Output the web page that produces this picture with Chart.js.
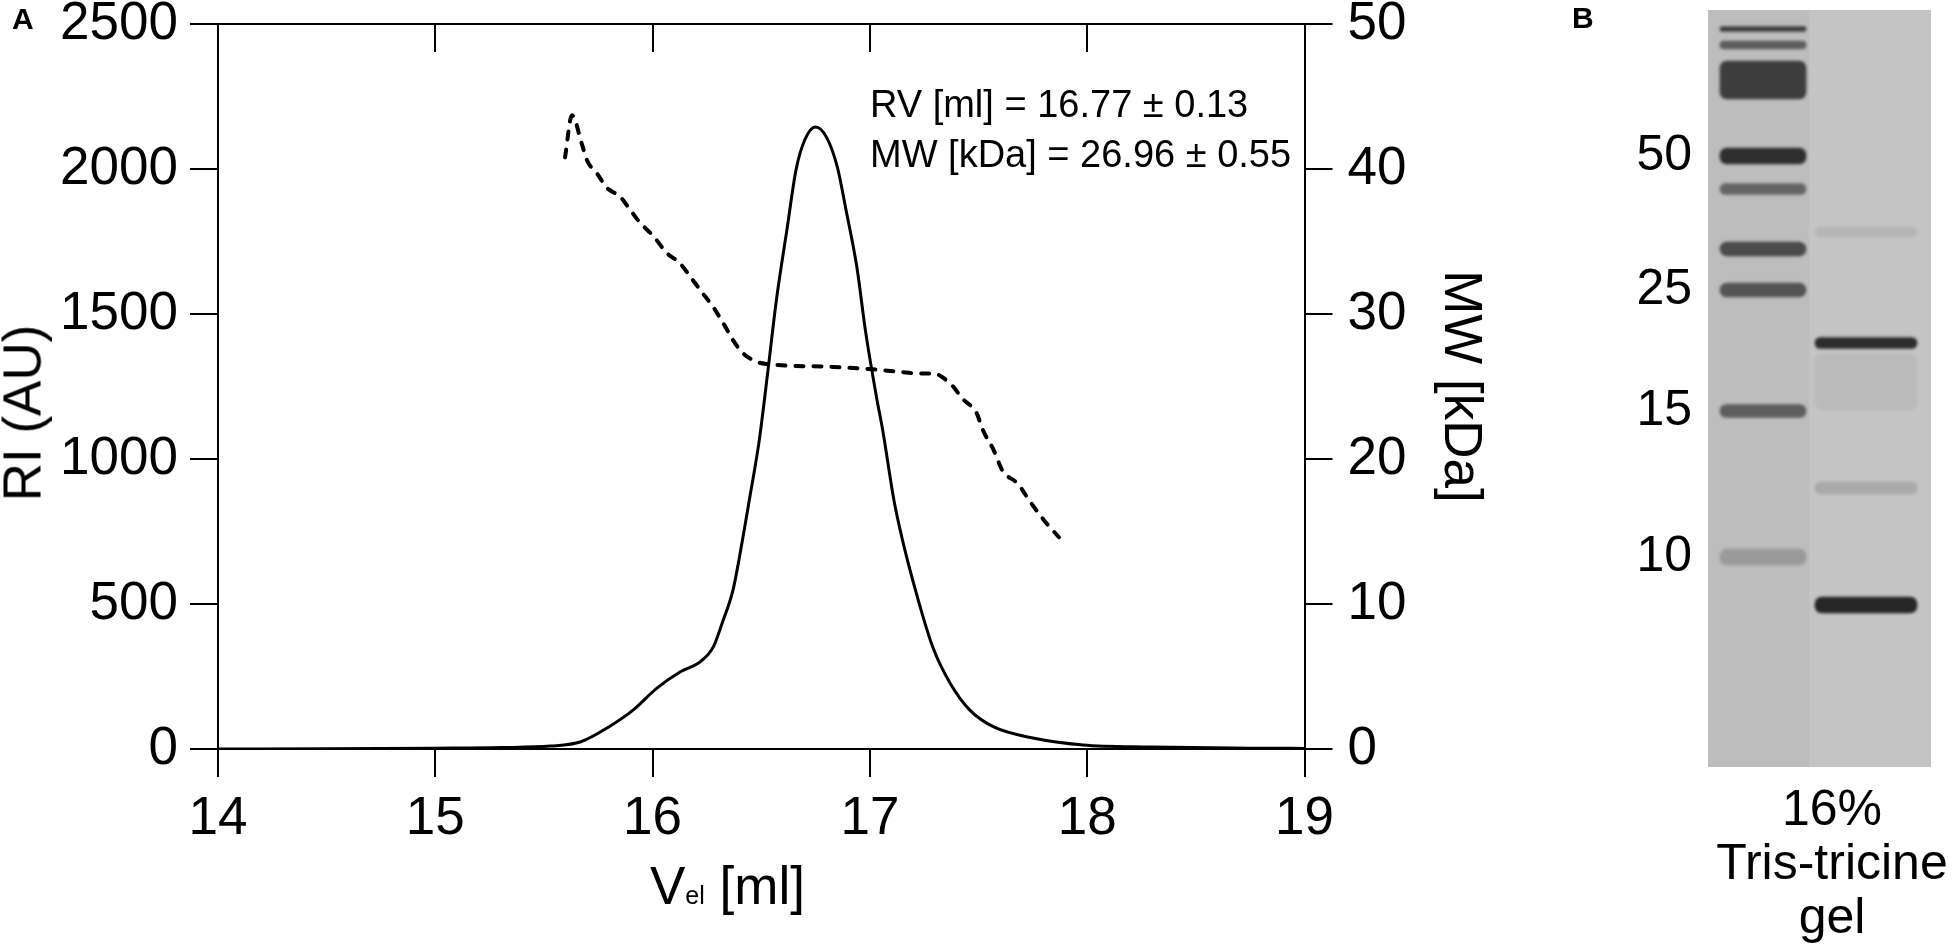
<!DOCTYPE html>
<html>
<head>
<meta charset="utf-8">
<script src="https://cdn.jsdelivr.net/npm/chart.js@4.4.1/dist/chart.umd.min.js"></script>
<style>
  html, body { margin: 0; padding: 0; background: #fff; }
  body { width: 1955px; height: 948px; position: relative; overflow: hidden;
         font-family: "Liberation Sans", Arial, sans-serif; color: #000; }
  canvas { position: absolute; top: 0; }
  #sec { left: -7px; }
  #gel { left: 1560px; }
  .txt { position: absolute; white-space: nowrap; }
  .panel { font-weight: bold; font-size: 30px; line-height: 30px; }
  #panelA { left: 12px; top: 4px; }
  #panelB { left: 1572px; top: 3px; }
  #note { left: 870px; top: 79px; font-size: 38px; line-height: 50px; }
  #xTitle { left: 650px; top: 859px; font-size: 53px; line-height: 53px; }
  #xTitle span { font-size: 25px; }
  #yTitle { left: 22px; top: 413px; font-size: 53px; line-height: 53px;
            transform: translate(-50%, -50%) rotate(-90deg); }
  #gelCap { left: 1832px; top: 781px; font-size: 50px; line-height: 54px;
            text-align: center; transform: translateX(-50%); }
</style>
</head>
<body>
<canvas id="sec" width="1498" height="948"></canvas>
<canvas id="gel" width="395" height="948"></canvas>

<div class="txt panel" id="panelA">A</div>
<div class="txt panel" id="panelB">B</div>
<div class="txt" id="note">RV [ml] = 16.77 ± 0.13<br>MW [kDa] = 26.96 ± 0.55</div>
<div class="txt" id="xTitle">V<span>el</span> [ml]</div>
<div class="txt" id="yTitle">RI (AU)</div>
<div class="txt" id="gelCap">16%<br>Tris-tricine<br>gel</div>

<script>
// elution volume (ml) and refractive index signal (AU)
const riVolume = [14.0, 14.5, 15.0, 15.3, 15.53, 15.67, 15.80, 15.91, 16.02, 16.13, 16.22, 16.28,
                  16.32, 16.37, 16.40, 16.45, 16.49, 16.53, 16.57, 16.62, 16.66, 16.70, 16.75, 16.80,
                  16.85, 16.89, 16.94, 16.98, 17.03, 17.06, 17.11, 17.15, 17.22, 17.29, 17.37, 17.46,
                  17.57, 17.75, 17.98, 18.29, 18.75, 19.0];
const riSignal = [0, 1, 3, 5, 10, 25, 77, 134, 210, 267, 301, 353,
                  434, 548, 663, 880, 1060, 1300, 1550, 1800, 1997, 2100, 2145, 2110,
                  2007, 1859, 1662, 1440, 1215, 1095, 860, 720, 520, 350, 226, 134,
                  76, 38, 14, 7, 3, 2];

// molar mass across the peak (kDa)
const mwVolume = [15.597, 15.629, 15.675, 15.698, 15.744, 15.790, 15.850, 15.896, 15.942, 16.002,
                  16.066, 16.126, 16.172, 16.232, 16.278, 16.324, 16.370, 16.416, 16.480, 16.526,
                  16.83, 17.0, 17.14, 17.22, 17.29, 17.37, 17.43, 17.49, 17.52, 17.57,
                  17.61, 17.68, 17.74, 17.80, 17.87];
const mwValue = [40.8, 43.7, 41.7, 40.6, 39.7, 38.7, 38.1, 37.2, 36.3, 35.4,
                 34.2, 33.5, 32.6, 31.4, 30.5, 29.4, 28.2, 27.3, 26.7, 26.55,
                 26.35, 26.2, 26.0, 25.9, 25.9, 25.2, 24.1, 23.2, 22.0, 20.6,
                 19.2, 18.3, 17.0, 15.8, 14.6];

const topTickValues = [15, 16, 17, 18];

// gel: lane 1 = marker, lane 2 = sample; band position/size in px from gel top
const laneX = [1, 2];
const markerBandPos = [19, 35, 70, 146, 179, 239, 280, 401, 547];
const markerBandSize = [5, 8, 38, 16, 11, 14, 14, 13, 16];
const markerBandDensity = [0.8, 0.6, 0.8, 0.9, 0.55, 0.72, 0.66, 0.6, 0.22];
const sampleBandPos = [222, 333, 372, 478, 595];
const sampleBandSize = [10, 11, 56, 12, 16];
const sampleBandDensity = [0.08, 0.92, 0.06, 0.16, 0.95];
const markerKda = ['50', '25', '15', '10'];
const markerKdaPos = [146, 280, 401, 547];

const black = '#000';
const family = 'Liberation Sans';

window.addEventListener('load', () => {

    //SEC-MALS chart
    const topTicks = {
        id: 'topTicks',
        afterDraw(chart) {
            const {ctx, chartArea, scales} = chart;
            ctx.save();
            ctx.strokeStyle = black;
            ctx.lineWidth = 2;
            ctx.beginPath();
            topTickValues.forEach(v => {
                const px = Math.round(scales.x.getPixelForValue(v));
                ctx.moveTo(px, chartArea.top);
                ctx.lineTo(px, chartArea.top + 28);
            });
            ctx.stroke();
            ctx.restore();
        }
    };

    const axisGrid = { drawOnChartArea: false, drawTicks: true, tickLength: 28, color: black, lineWidth: 2 };
    const axisBorder = { display: true, color: black, width: 2 };

    new Chart(document.getElementById('sec'), {
        type: 'line',
        data: {
            datasets: [{
                label: 'RI',
                data: riVolume.map((v, i) => ({ x: v, y: riSignal[i] })),
                yAxisID: 'y',
                borderColor: black,
                borderWidth: 3,
                pointRadius: 0,
                cubicInterpolationMode: 'monotone',
                fill: false
            }, {
                label: 'MW',
                data: mwVolume.map((v, i) => ({ x: v, y: mwValue[i] })),
                yAxisID: 'yR',
                borderColor: black,
                borderWidth: 4,
                borderDash: [8, 10],
                borderCapStyle: 'round',
                pointRadius: 0,
                cubicInterpolationMode: 'monotone',
                fill: false
            }]
        },
        options: {
            responsive: false,
            animation: false,
            devicePixelRatio: 1,
            layout: { padding: { top: 24, left: 0, right: 0, bottom: 0 } },
            plugins: { legend: { display: false }, tooltip: { enabled: false } },
            scales: {
                x: {
                    type: 'linear', position: 'bottom', min: 14, max: 19,
                    ticks: { stepSize: 1, color: black, padding: 11, font: { family, size: 53 } },
                    grid: axisGrid,
                    border: axisBorder,
                    afterFit(s) { s.height = 199; s.paddingLeft = 0; s.paddingRight = 0; }
                },
                xt: {
                    type: 'linear', position: 'top', min: 14, max: 19,
                    ticks: { display: false },
                    grid: { display: false },
                    border: axisBorder,
                    afterFit(s) { s.height = 0; s.paddingLeft = 0; s.paddingRight = 0; }
                },
                y: {
                    position: 'left', min: 0, max: 2500,
                    ticks: { stepSize: 500, color: black, padding: 12, font: { family, size: 53 },
                             callback: v => String(v) },
                    grid: axisGrid,
                    border: axisBorder,
                    afterFit(s) { s.width = 225; s.paddingTop = 0; s.paddingBottom = 0; }
                },
                yR: {
                    position: 'right', min: 0, max: 50,
                    ticks: { stepSize: 10, color: black, padding: 15, font: { family, size: 53 },
                             callback: v => String(v) },
                    grid: axisGrid,
                    border: axisBorder,
                    title: { display: true, text: 'MW [kDa]', color: black, padding: 0,
                             font: { family, size: 53 } },
                    afterFit(s) { s.width = 186.5; s.paddingTop = 0; s.paddingBottom = 0; }
                }
            }
        },
        plugins: [topTicks]
    });

    //Gel picture
    const gelBackdrop = {
        id: 'gelBackdrop',
        beforeDraw(chart) {
            const {ctx, chartArea: a, scales} = chart;
            ctx.save();
            ctx.fillStyle = '#c4c4c4';
            ctx.fillRect(a.left, a.top, a.right - a.left, a.bottom - a.top);
            ctx.fillStyle = 'rgba(0, 0, 0, 0.035)';
            const split = scales.x.getPixelForValue(1.45);
            ctx.fillRect(a.left, a.top, split - a.left, a.bottom - a.top);
            ctx.restore();
        }
    };

    const gelBlur = {
        id: 'gelBlur',
        beforeDatasetsDraw(chart) { chart.ctx.save(); chart.ctx.filter = 'blur(1.8px)'; },
        afterDatasetsDraw(chart) { chart.ctx.restore(); }
    };

    const bandColor = d => 'rgba(30, 30, 30, ' + d + ')';

    new Chart(document.getElementById('gel'), {
        type: 'bar',
        data: {
            datasets: [{
                label: 'marker',
                data: markerBandPos.map((p, i) => ({ x: laneX[0], y: [p - markerBandSize[i] / 2, p + markerBandSize[i] / 2] })),
                backgroundColor: markerBandDensity.map(bandColor),
                barThickness: 86,
                grouped: false,
                borderRadius: 7,
                borderSkipped: false
            }, {
                label: 'sample',
                data: sampleBandPos.map((p, i) => ({ x: laneX[1], y: [p - sampleBandSize[i] / 2, p + sampleBandSize[i] / 2] })),
                backgroundColor: sampleBandDensity.map(bandColor),
                barThickness: 102,
                grouped: false,
                borderRadius: 7,
                borderSkipped: false
            }]
        },
        options: {
            responsive: false,
            animation: false,
            devicePixelRatio: 1,
            layout: { padding: { top: 10, bottom: 181, right: 24, left: 0 } },
            plugins: { legend: { display: false }, tooltip: { enabled: false } },
            scales: {
                x: { type: 'linear', min: 0.466, max: 2.631, offset: false, display: false },
                y: {
                    position: 'left', reverse: true, min: 0, max: 757,
                    grid: { display: false },
                    border: { display: false },
                    afterBuildTicks(s) { s.ticks = markerKdaPos.map(v => ({ value: v })); },
                    afterFit(s) { s.width = 148; s.paddingTop = 0; s.paddingBottom = 0; },
                    ticks: { padding: 8, color: black, font: { family, size: 50 },
                             callback: (v, i) => markerKda[i] }
                }
            }
        },
        plugins: [gelBackdrop, gelBlur]
    });

});
</script>
</body>
</html>
